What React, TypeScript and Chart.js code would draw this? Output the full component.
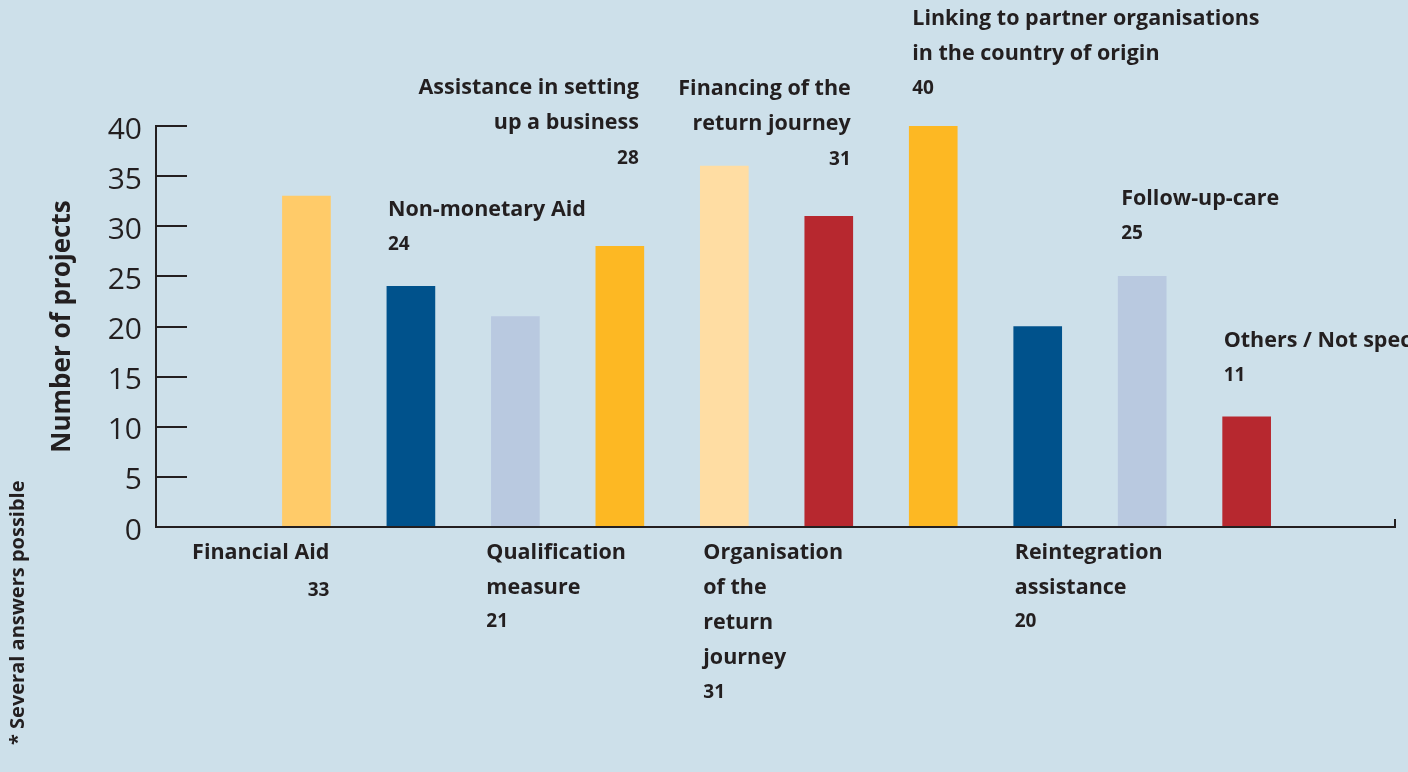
import React, { useEffect, useRef } from "react";
import { Chart, registerables } from "chart.js";

Chart.register(...registerables);

// ---------- data ----------
const categories: string[][] = [
  ["Financial Aid"],
  ["Non-monetary Aid"],
  ["Qualification", "measure"],
  ["Assistance in setting", "up a business"],
  ["Organisation", "of the", "return", "journey"],
  ["Financing of the", "return journey"],
  ["Linking to partner organisations", "in the country of origin"],
  ["Reintegration", "assistance"],
  ["Follow-up-care"],
  ["Others / Not specified"],
];
const values: number[] = [33, 24, 21, 28, 36, 31, 40, 20, 25, 11];
const valueLabels: string[] = ["33", "24", "21", "28", "31", "31", "40", "20", "25", "11"];
const yTickValues: number[] = [0, 5, 10, 15, 20, 25, 30, 35, 40];
const yTitle = "Number of projects";
const footnote = "* Several answers possible";

// ---------- styles ----------
const BG = "#cde0ea";
const DARK = "#231f20";
const barColors = [
  "#ffcb69",
  "#00528c",
  "#b9c9e0",
  "#fdb823",
  "#ffdda3",
  "#b7282f",
  "#fdb823",
  "#00528c",
  "#b9c9e0",
  "#b7282f",
];
type LabelLayout = { side: "above" | "below"; align: "left" | "right"; dx: number; gap?: number; valGap?: number };
const labelLayout: LabelLayout[] = [
  { side: "below", align: "right", dx: -1, valGap: 38 },
  { side: "above", align: "left", dx: 1, gap: 42 },
  { side: "below", align: "left", dx: -5, valGap: 34 },
  { side: "above", align: "right", dx: -5, gap: 88 },
  { side: "below", align: "left", dx: 3, valGap: 35 },
  { side: "above", align: "right", dx: -2, gap: 57 },
  { side: "above", align: "left", dx: 3, gap: 37 },
  { side: "below", align: "left", dx: 1, valGap: 34 },
  { side: "above", align: "left", dx: 3, gap: 43 },
  { side: "above", align: "left", dx: 1, gap: 41 },
];
const FONT = "'Open Sans', sans-serif";
const LABEL_FONT = `bold 21.5px ${FONT}`;
const NUM_FONT = `bold 19px ${FONT}`;
const LINE = 35;

const annotationPlugin = {
  id: "annotations",
  afterDraw(chart: any) {
    const { ctx, chartArea, scales } = chart;
    const ys = scales.y;
    const y0 = ys.getPixelForValue(0);
    ctx.save();
    ctx.strokeStyle = DARK;
    ctx.lineWidth = 2;
    ctx.beginPath();
    ctx.moveTo(chartArea.left, y0);
    ctx.lineTo(chartArea.right, y0);
    ctx.lineTo(chartArea.right, y0 - 8);
    ctx.stroke();
    ys.ticks.forEach((t: any) => {
      const py = Math.round(ys.getPixelForValue(t.value));
      ctx.beginPath();
      ctx.moveTo(chartArea.left, py);
      ctx.lineTo(chartArea.left + 31, py);
      ctx.stroke();
    });

    ctx.fillStyle = DARK;
    ctx.textBaseline = "middle";
    const meta = chart.getDatasetMeta(0);
    meta.data.forEach((bar: any, i: number) => {
      const lay = labelLayout[i];
      const lines = categories[i];
      const left = bar.x - bar.width / 2;
      const right = bar.x + bar.width / 2;
      const tx = (lay.align === "left" ? left : right) + lay.dx;
      ctx.textAlign = lay.align;
      if (lay.side === "below") {
        const ly = y0 + 26;
        ctx.font = LABEL_FONT;
        lines.forEach((ln, k) => {
          ctx.fillText(ln, tx, ly + k * LINE);
        });
        const vy = ly + (lines.length - 1) * LINE + (lay.valGap || LINE);
        ctx.font = NUM_FONT;
        ctx.fillText(valueLabels[i], tx, vy);
      } else {
        const vy = bar.y - (lay.gap || 40);
        ctx.font = NUM_FONT;
        ctx.fillText(valueLabels[i], tx, vy);
        ctx.font = LABEL_FONT;
        lines.forEach((ln, k) => {
          ctx.fillText(ln, tx, vy - (lines.length - k) * LINE);
        });
      }
    });

    ctx.translate(18, 745);
    ctx.rotate(-Math.PI / 2);
    ctx.textAlign = "left";
    ctx.textBaseline = "middle";
    ctx.font = `bold 20px ${FONT}`;
    ctx.fillText(footnote, 0, 0);
    ctx.restore();
  },
};

export default function App() {
  const ref = useRef<HTMLCanvasElement | null>(null);
  useEffect(() => {
    document.body.style.margin = "0";
    document.body.style.background = BG;
    const canvas = ref.current!;
    const chart = new Chart(canvas, {
      type: "bar",
      data: {
        datasets: [
          {
            data: values.map((v, i) => ({ x: i + 1, y: v })),
            backgroundColor: barColors,
            barThickness: 48,
            borderWidth: 0,
          },
        ],
      },
      options: {
        animation: false,
        responsive: false,
        devicePixelRatio: 1,
        layout: { padding: { top: 126, right: 13, bottom: 245, left: 0 } },
        plugins: { legend: { display: false }, tooltip: { enabled: false } },
        scales: {
          x: {
            type: "linear",
            display: false,
            offset: false,
            min: -0.44,
            max: 11.42,
          },
          y: {
            min: 0,
            max: 40,
            afterBuildTicks: (scale: any) => {
              scale.ticks = yTickValues.map((v) => ({ value: v }));
            },
            afterFit: (scale: any) => {
              scale.width = 156;
            },
            grid: { display: false, drawTicks: false },
            border: { display: true, color: DARK, width: 2 },
            ticks: {
              color: DARK,
              padding: 14,
              labelOffset: 4,
              font: { family: FONT, size: 30 },
            },
            title: {
              display: true,
              text: yTitle,
              color: DARK,
              font: { family: FONT, size: 26, weight: "bold" },
              padding: { top: 47, bottom: 0 },
            },
          },
        },
      },
      plugins: [annotationPlugin],
    } as any);
    return () => chart.destroy();
  }, []);
  return (
    <div style={{ position: "fixed", left: 0, top: 0, width: 1408, height: 772, background: BG }}>
      <canvas ref={ref} width={1408} height={772} style={{ display: "block" }} />
    </div>
  );
}
